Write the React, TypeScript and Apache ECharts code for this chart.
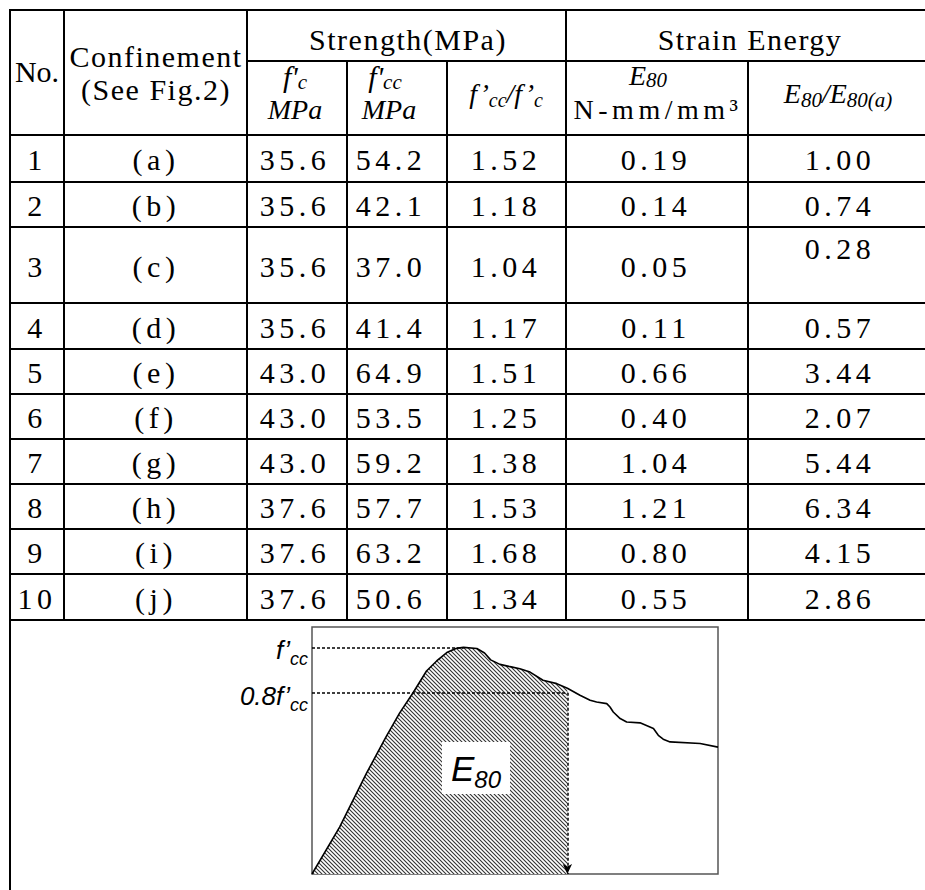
import React, { useEffect, useRef } from 'react';
import * as echarts from 'echarts';

// ---------- table data ----------
const rowNo = ['1', '2', '3', '4', '5', '6', '7', '8', '9', '10'];
const confinement = ['(a)', '(b)', '(c)', '(d)', '(e)', '(f)', '(g)', '(h)', '(i)', '(j)'];
const fcMPa = ['35.6', '35.6', '35.6', '35.6', '43.0', '43.0', '43.0', '37.6', '37.6', '37.6'];
const fccMPa = ['54.2', '42.1', '37.0', '41.4', '64.9', '53.5', '59.2', '57.7', '63.2', '50.6'];
const fccRatio = ['1.52', '1.18', '1.04', '1.17', '1.51', '1.25', '1.38', '1.53', '1.68', '1.34'];
const e80Energy = ['0.19', '0.14', '0.05', '0.11', '0.66', '0.40', '1.04', '1.21', '0.80', '0.55'];
const e80Ratio = ['1.00', '0.74', '0.28', '0.57', '3.44', '2.07', '5.44', '6.34', '4.15', '2.86'];

// ---------- stress-strain sketch (strain in % of plotted range, stress / f'cc) ----------
const curveStrain = [0, 6.8, 13.4, 18.3, 21.6, 24.9, 28.2, 30.7, 33.2, 35.6, 37.3, 40.6, 42.5, 44.0, 46.3, 48.8, 51.2, 53.7, 56.9, 60.3, 62.9, 66.0, 68.5, 70.1, 72.6, 73.4, 74.2, 75.9, 77.5, 80.8, 84.1, 85.3, 86.5, 88.2, 95.6, 100];
const curveStress = [0, 0.207, 0.444, 0.607, 0.711, 0.8, 0.896, 0.94, 0.977, 0.996, 1.0, 0.995, 0.975, 0.945, 0.925, 0.915, 0.906, 0.891, 0.855, 0.84, 0.82, 0.789, 0.767, 0.759, 0.752, 0.737, 0.715, 0.686, 0.671, 0.667, 0.642, 0.612, 0.595, 0.583, 0.576, 0.56];
const peakStrain = 37.3;
const stressLevels = [1.0, 0.8];
const stressLevelLabels = ['{a|f’}{b|cc}', '{a|0.8f’}{b|cc}'];
const strainE80 = 62.9;

// ---------- layout ----------
const W = 925;
const H = 890;
const COL_X = [10, 64, 247, 347, 447, 566, 748];
const TOP_Y = 10;
const SUB_Y = 61;
const ROW_Y = [135, 182, 227, 303, 349, 394, 439, 484, 529, 574, 620];
const BODY_X = [37, 156, 295, 391, 506, 656, 840];

const FONT_PLAIN = "'Liberation Serif', serif";
const FONT_HDR = "'Liberation Serif', hdrSpaced, serif";
const FONT_NUM = "'Liberation Serif', numSpaced, serif";
const SANS = "'Liberation Sans', Arial, sans-serif";

const css = `
#tbl text[style*="hdrSpaced"] { letter-spacing: 1.5px; }
#tbl text[style*="numSpaced"] { letter-spacing: 4.5px; }
`;

function makeHatch(): HTMLCanvasElement {
  const c = document.createElement('canvas');
  c.width = 4;
  c.height = 4;
  const ctx = c.getContext('2d') as CanvasRenderingContext2D;
  ctx.fillStyle = '#ffffff';
  ctx.fillRect(0, 0, 4, 4);
  ctx.strokeStyle = '#333333';
  ctx.lineWidth = 1.1;
  ctx.beginPath();
  ctx.moveTo(-1, -1);
  ctx.lineTo(5, 5);
  ctx.moveTo(-1, 3);
  ctx.lineTo(1, 5);
  ctx.moveTo(3, -1);
  ctx.lineTo(5, 1);
  ctx.stroke();
  return c;
}

function hLine(x1: number, y: number, x2: number) {
  return { type: 'line', silent: true, shape: { x1, y1: y, x2, y2: y }, style: { stroke: '#000', lineWidth: 2 } };
}
function vLine(x: number, y1: number, y2: number) {
  return { type: 'line', silent: true, shape: { x1: x, y1, x2: x, y2 }, style: { stroke: '#000', lineWidth: 2 } };
}
function txt(text: string, x: number, y: number, font: string, size = 30, extra: any = {}) {
  return {
    type: 'text', x, y, silent: true, z: 10,
    style: { text, fontSize: size, fontFamily: font, fill: '#000', align: 'center', verticalAlign: 'middle', ...extra },
  };
}
function mathTxt(text: string, x: number, y: number, big = 30, small = 21, lh = big + 4) {
  return {
    type: 'text', x, y, silent: true, z: 10,
    style: {
      text, fill: '#000', align: 'center', verticalAlign: 'middle',
      fontSize: big, fontFamily: FONT_PLAIN, fontStyle: 'italic',
      rich: {
        i: { fontSize: big, fontFamily: FONT_PLAIN, fontStyle: 'italic', fill: '#000', lineHeight: lh, verticalAlign: 'middle' },
        s: { fontSize: small, fontFamily: FONT_PLAIN, fontStyle: 'italic', fill: '#000', lineHeight: small, verticalAlign: 'bottom' },
      },
    },
  };
}

function buildGraphic(): any[] {
  const g: any[] = [];
  // ruling of the table
  g.push(hLine(9, TOP_Y, W));
  g.push(hLine(COL_X[2], SUB_Y, W));
  ROW_Y.forEach((y) => g.push(hLine(9, y, W)));
  g.push(vLine(COL_X[0], 9, H));
  const last = ROW_Y[ROW_Y.length - 1] + 1;
  g.push(vLine(COL_X[1], 9, last));
  g.push(vLine(COL_X[2], 9, last));
  g.push(vLine(COL_X[3], SUB_Y, last));
  g.push(vLine(COL_X[4], SUB_Y, last));
  g.push(vLine(COL_X[5], 9, last));
  g.push(vLine(COL_X[6], SUB_Y, last));

  // header
  g.push(txt('No.', 37, 71, FONT_PLAIN, 30));
  g.push(txt('Confinement', 156, 56, FONT_HDR, 30));
  g.push(txt('(See Fig.2)', 156, 89, FONT_HDR, 30));
  g.push(txt('Strength(MPa)', 408, 39, FONT_HDR, 30));
  g.push(txt('Strain Energy', 750, 39, FONT_HDR, 30));

  g.push(mathTxt("{i|f'}{s|c}", 295, 76, 30, 21, 32));
  g.push(txt('MPa', 295, 109, FONT_PLAIN, 28, { fontStyle: 'italic' }));
  g.push(mathTxt("{i|f'}{s|cc}", 385, 76, 30, 21, 32));
  g.push(txt('MPa', 389, 109, FONT_PLAIN, 28, { fontStyle: 'italic' }));
  g.push(mathTxt('{i|f’}{s|cc}{i|/f’}{s|c}', 506, 93, 28, 20, 34));
  g.push(mathTxt('{i|E}{s|80}', 648, 75, 28, 21, 30));
  g.push(txt('N-mm/mm³', 658, 109, FONT_NUM, 28));
  g.push(mathTxt('{i|E}{s|80}{i|/E}{s|80(a)}', 838, 93, 28, 21, 34));

  // body
  const cols = [rowNo, confinement, fcMPa, fccMPa, fccRatio, e80Energy, e80Ratio];
  for (let r = 0; r < rowNo.length; r++) {
    const yc = (ROW_Y[r] + ROW_Y[r + 1]) / 2 + 1;
    cols.forEach((col, c) => {
      let y = yc;
      if (r === 2 && c === 6) y = ROW_Y[r] + 21;
      g.push(txt(col[r], BODY_X[c], y, FONT_NUM, 30));
    });
  }

  // E80 label inside the hatched area
  g.push({
    type: 'text', x: 476, y: 768, silent: true, z: 100,
    style: {
      text: '{e|E}{s|80}', fill: '#000', align: 'center', verticalAlign: 'middle',
      backgroundColor: '#fff', padding: [3, 9, 3, 9], fontSize: 35, fontFamily: SANS,
      rich: {
        e: { fontSize: 35, fontFamily: SANS, fontStyle: 'italic', fill: '#000', lineHeight: 46, verticalAlign: 'middle' },
        s: { fontSize: 24, fontFamily: SANS, fontStyle: 'italic', fill: '#000', lineHeight: 24, verticalAlign: 'bottom' },
      },
    },
  });
  return g;
}

export default function App() {
  const ref = useRef<HTMLDivElement>(null);

  useEffect(() => {
    if (!ref.current) return;
    const chart = echarts.init(ref.current, null, { renderer: 'svg' });
    const hatch = makeHatch();

    const curveData = curveStrain.map((x, i) => [x, curveStress[i]]);
    const areaData = curveData.filter((p) => p[0] <= strainE80 + 1e-9);

    const option: any = {
      animation: false,
      backgroundColor: '#fff',
      grid: {
        left: 312, top: 627, width: 406, height: 247,
        show: true, borderColor: '#555', borderWidth: 1.5, backgroundColor: '#fff',
      },
      xAxis: { type: 'value', min: 0, max: 100, show: false },
      yAxis: {
        type: 'value', min: 0, max: 1.09, interval: 0.2,
        axisLine: { show: false }, axisTick: { show: false }, splitLine: { show: false },
        axisLabel: {
          margin: 4,
          padding: [6, 0, 0, 0],
          formatter: (v: number) => {
            for (let i = 0; i < stressLevels.length; i++) {
              if (Math.abs(v - stressLevels[i]) < 1e-6) return stressLevelLabels[i];
            }
            return '';
          },
          rich: {
            a: { fontSize: 26, fontStyle: 'italic', fontFamily: SANS, color: '#000', lineHeight: 36, verticalAlign: 'middle' },
            b: { fontSize: 18, fontStyle: 'italic', fontFamily: SANS, color: '#000', lineHeight: 18, verticalAlign: 'bottom' },
          },
        },
      },
      series: [
        {
          type: 'line', data: areaData, symbol: 'none', silent: true, z: 1,
          lineStyle: { width: 0, opacity: 0 },
          areaStyle: { color: { image: hatch, repeat: 'repeat', imageWidth: 4, imageHeight: 4 }, opacity: 1 },
        },
        {
          type: 'line', data: curveData, symbol: 'none', silent: true, z: 3,
          lineStyle: { color: '#000', width: 1.6 },
          markLine: {
            silent: true, symbol: ['none', 'none'], label: { show: false },
            lineStyle: { color: '#000', type: [3, 2], width: 1.5 },
            data: [
              [{ coord: [0, stressLevels[0]] }, { coord: [peakStrain, stressLevels[0]] }],
              [{ coord: [0, stressLevels[1]] }, { coord: [strainE80, stressLevels[1]] }],
              [{ coord: [strainE80, stressLevels[1]] }, { coord: [strainE80, 0], symbol: 'arrow', symbolSize: [7, 10] }],
            ],
          },
        },
      ],
      graphic: buildGraphic(),
    };
    chart.setOption(option);
    return () => chart.dispose();
  }, []);

  return (
    <div style={{ position: 'fixed', left: 0, top: 0, width: W, height: H, background: '#fff' }}>
      <style>{css}</style>
      <div id="tbl" ref={ref} style={{ width: W, height: H }} />
    </div>
  );
}
